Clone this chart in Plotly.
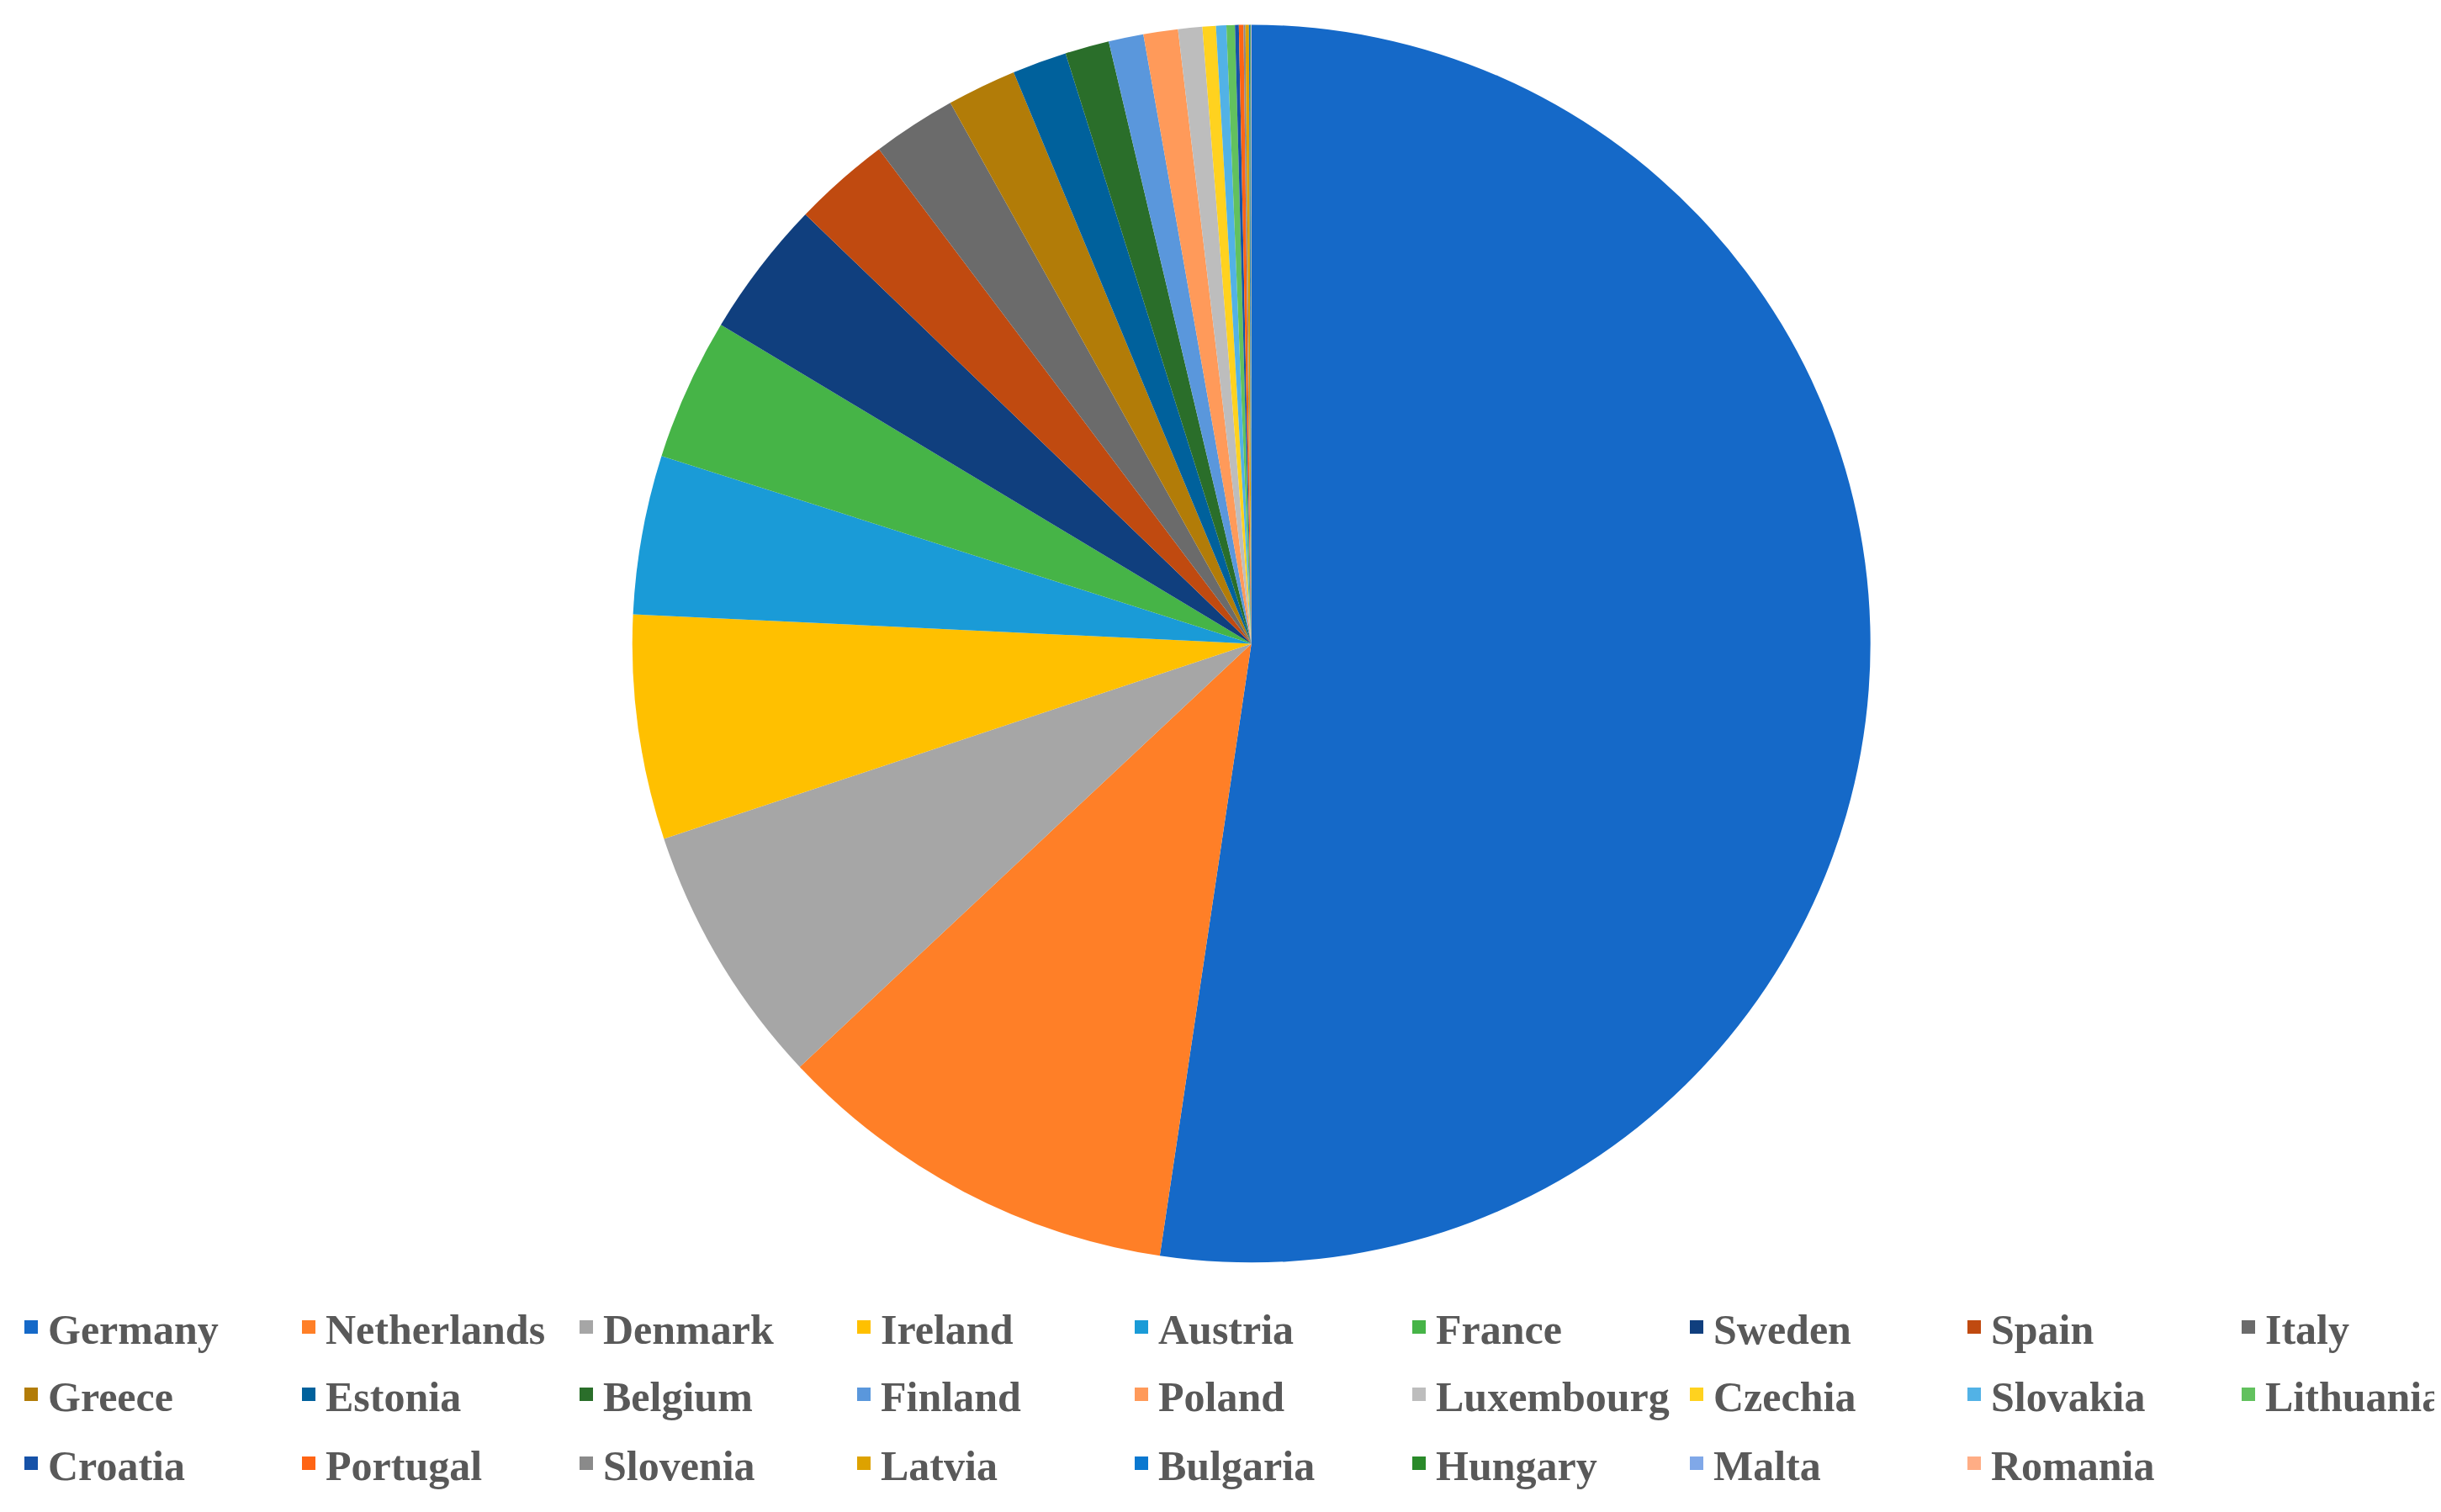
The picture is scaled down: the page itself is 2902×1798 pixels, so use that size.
import plotly.graph_objects as go

# Share of total (%) by country
countries = ["Germany", "Netherlands", "Denmark", "Ireland", "Austria", "France",
             "Sweden", "Spain", "Italy", "Greece", "Estonia", "Belgium", "Finland",
             "Poland", "Luxembourg", "Czechia", "Slovakia", "Lithuania", "Croatia",
             "Portugal", "Slovenia", "Latvia", "Bulgaria", "Hungary", "Malta", "Romania"]
shares = [52.36, 10.65, 6.88, 5.86, 4.15, 3.71, 3.58, 2.53, 2.19, 1.81, 1.42, 1.15, 0.91,
          0.90, 0.63, 0.35, 0.27, 0.22, 0.10, 0.12, 0.05, 0.09, 0.033, 0.014, 0.008, 0.008]
colors = ["#1569c8", "#ff7f27", "#a6a6a6", "#ffc000", "#1a9bd7", "#46b447",
          "#103f7e", "#c04a10", "#6b6b6b", "#b27c08", "#00619c", "#2a6e2a", "#5a97dc",
          "#ff9a5a", "#bdbdbd", "#ffd21f", "#52b2e6", "#62c15e", "#1652a8",
          "#ff6414", "#8a8a8a", "#dda200", "#0a78d0", "#2a8a2a", "#80a8e8", "#ffad85"]

W, H = 2902, 1798
N_COLS = 9
COL_W = 329.5          # px between legend columns
LEG_X0 = 9             # px, left edge of first legend column
ROW_Y = [1570, 1650, 1732]   # px from top, legend row centres

fig = go.Figure()

fig.add_trace(go.Pie(
    labels=countries,
    values=shares,
    sort=False,
    direction="clockwise",
    rotation=0,
    marker=dict(colors=colors, line=dict(width=0)),
    textinfo="none",
    showlegend=False,
    domain=dict(x=[0.2563, 0.7635], y=[0.1694, 0.9881]),
))

# legend entries: one legend per row (last column split off so rows don't wrap)
legends = {}
for i, (name, col) in enumerate(zip(countries, colors)):
    row, c = divmod(i, N_COLS)
    key_idx = 2 * row + (1 if c == N_COLS - 1 else 0)
    key = "legend" if key_idx == 0 else f"legend{key_idx + 1}"
    first_col = N_COLS - 1 if c == N_COLS - 1 else 0
    if key not in legends:
        legends[key] = dict(
            orientation="h",
            x=(LEG_X0 + first_col * COL_W) / W, xanchor="left",
            y=1 - ROW_Y[row] / H, yanchor="middle",
            entrywidth=COL_W - 44.5, entrywidthmode="pixels",
            font=dict(family="Liberation Serif", size=50, color="#595959", weight="bold"),
            bgcolor="rgba(0,0,0,0)",
            itemclick=False, itemdoubleclick=False,
        )
    fig.add_trace(go.Scatter(
        x=[None], y=[None], mode="markers", name=name,
        marker=dict(symbol="square", size=16, color=col),
        legend=key, showlegend=True, hoverinfo="skip",
    ))

fig.update_layout(
    width=W, height=H,
    margin=dict(l=0, r=0, t=0, b=0, autoexpand=False),
    paper_bgcolor="white",
    plot_bgcolor="white",
    xaxis=dict(visible=False),
    yaxis=dict(visible=False),
    **legends,
)

fig.write_html("out.html")
